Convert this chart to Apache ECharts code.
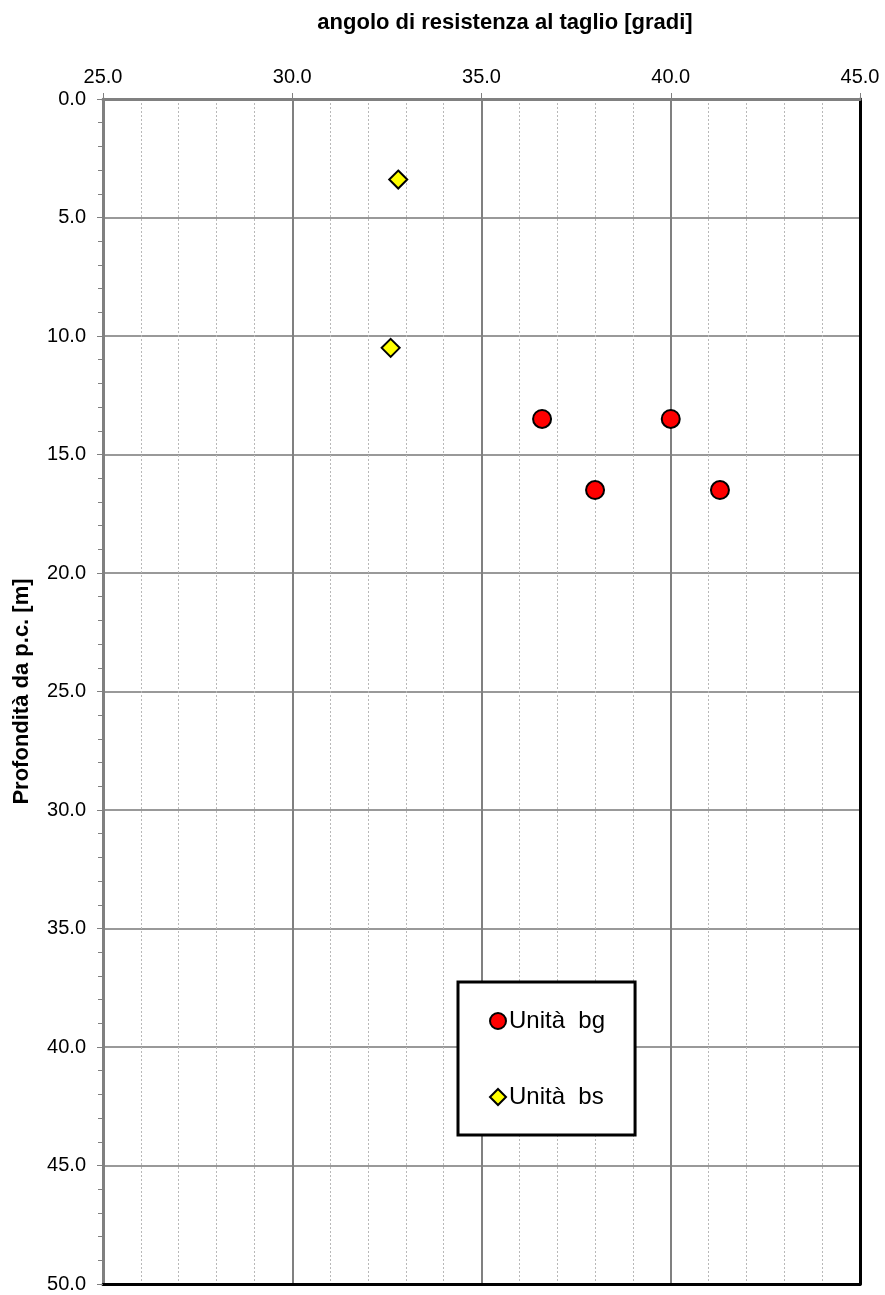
<!DOCTYPE html>
<html>

<head>
    <meta http-equiv="Content-Type" content="text/html; charset=utf-8" />
    <title>angolo di resistenza al taglio</title>
    <style type="text/css">
        * {
            margin: 0;
            padding: 0;
        }

        html,
        body {
            width: 100%;
            height: 100%;
            background: #fff;
        }
    </style>
</head>

<body>
    <div id="main" style="width: 885px;height:1295px;"></div>
    <script type="text/javascript" src="https://cdn.jsdelivr.net/npm/echarts@6/dist/echarts.min.js"></script>
    <script type="text/javascript">
        // dati: [angolo, profondità]
        const bgAngle = [36.6, 40.0, 38.0, 41.3];
        const bgDepth = [13.5, 13.5, 16.5, 16.5];
        const bsAngle = [32.8, 32.6];
        const bsDepth = [3.4, 10.5];
        const seriesNames = ['Unità  bg', 'Unità  bs'];

        const FONT = 'Liberation Sans, Arial, sans-serif';
        const fmt = v => v.toFixed(1);

        const pairs = (xs, ys) => xs.map((x, i) => [x, ys[i]]);

        const myChart = echarts.init(document.getElementById('main'));
        myChart.setOption({
            animation: false,
            backgroundColor: '#fff',
            title: {
                text: 'angolo di resistenza al taglio [gradi]',
                left: 500,
                top: 7,
                textAlign: 'center',
                textStyle: { fontFamily: FONT, fontSize: 22, fontWeight: 'bold', color: '#000' }
            },
            grid: { left: 103, top: 99, right: 25, bottom: 11 },
            legend: {
                orient: 'vertical',
                left: 458,
                top: 982,
                padding: [27, 30, 26, 31],
                itemGap: 52,
                itemWidth: 16,
                itemHeight: 16,
                itemStyle: { borderWidth: 2 },
                borderColor: '#000',
                borderWidth: 3,
                backgroundColor: '#fff',
                textStyle: { fontFamily: FONT, fontSize: 24, lineHeight: 24, color: '#000', padding: [0, 0, 0, -2] },
                data: seriesNames
            },
            xAxis: [{
                type: 'value',
                position: 'top',
                min: 25,
                max: 45,
                interval: 5,
                axisLine: { show: true, lineStyle: { color: '#808080', width: 3 } },
                axisTick: { show: true, length: 6, lineStyle: { color: '#808080', width: 1 } },
                minorTick: { show: false, splitNumber: 5 },
                axisLabel: { formatter: fmt, fontFamily: FONT, fontSize: 20, color: '#000', margin: 12 },
                splitLine: { show: true, lineStyle: { color: '#808080', width: 2 } },
                minorSplitLine: { show: true, lineStyle: { color: '#b8b8b8', width: 1, type: [2, 2] } }
            }, {
                type: 'value',
                position: 'bottom',
                min: 25,
                max: 45,
                axisLine: { show: true, onZero: false, lineStyle: { color: '#000', width: 3 } },
                axisTick: { show: false },
                axisLabel: { show: false },
                splitLine: { show: false }
            }],
            yAxis: [{
                type: 'value',
                inverse: true,
                min: 0,
                max: 50,
                interval: 5,
                name: 'Profondità da p.c. [m]',
                nameLocation: 'middle',
                nameRotate: 90,
                nameGap: 70,
                nameTextStyle: { fontFamily: FONT, fontSize: 22, fontWeight: 'bold', color: '#000' },
                axisLine: { show: true, lineStyle: { color: '#808080', width: 3 } },
                axisTick: { show: true, length: 6, lineStyle: { color: '#808080', width: 1 } },
                minorTick: { show: true, splitNumber: 5, length: 5, lineStyle: { color: '#808080', width: 1 } },
                axisLabel: { formatter: fmt, fontFamily: FONT, fontSize: 20, color: '#000', margin: 17 },
                splitLine: { show: true, lineStyle: { color: '#999999', width: 2 } },
                minorSplitLine: { show: false }
            }, {
                type: 'value',
                position: 'right',
                inverse: true,
                min: 0,
                max: 50,
                axisLine: { show: true, onZero: false, lineStyle: { color: '#000', width: 3 } },
                axisTick: { show: false },
                axisLabel: { show: false },
                splitLine: { show: false }
            }],
            series: [{
                name: seriesNames[0],
                type: 'scatter',
                symbol: 'circle',
                symbolSize: 18,
                itemStyle: { color: '#ff0000', borderColor: '#000', borderWidth: 2, opacity: 1 },
                data: pairs(bgAngle, bgDepth),
                z: 5
            }, {
                name: seriesNames[1],
                type: 'scatter',
                symbol: 'diamond',
                symbolSize: [18, 18],
                itemStyle: { color: '#ffff00', borderColor: '#000', borderWidth: 2, opacity: 1 },
                data: pairs(bsAngle, bsDepth),
                z: 5
            }]
        });
    </script>
</body>

</html>
